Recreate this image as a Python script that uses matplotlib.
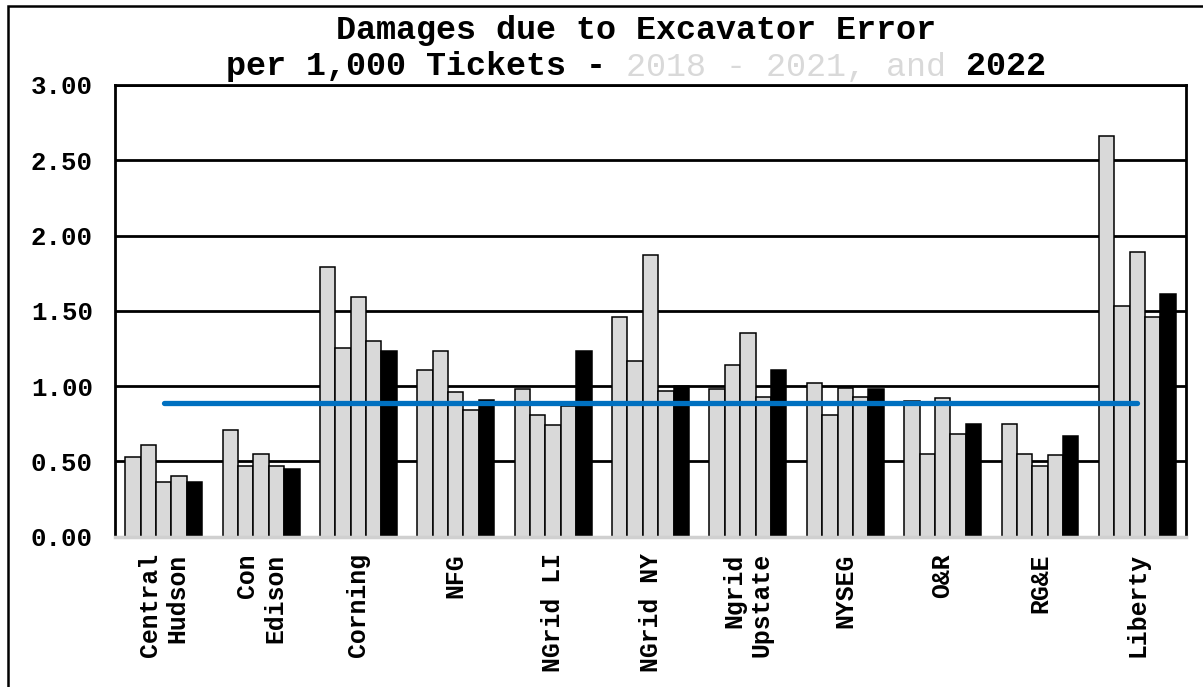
import matplotlib
matplotlib.use('Agg')
from matplotlib import pyplot as plt
from matplotlib.patches import Rectangle
from matplotlib.ticker import FormatStrFormatter
import numpy as np

companies = ['Central\nHudson', 'Con\nEdison', 'Corning', 'NFG', 'NGrid LI',
             'NGrid NY', 'Ngrid\nUpstate', 'NYSEG', 'O&R', 'RG&E', 'Liberty']
y2018 = [0.53, 0.71, 1.79, 1.11, 0.98, 1.46, 0.98, 1.02, 0.90, 0.75, 2.66]
y2019 = [0.61, 0.47, 1.25, 1.23, 0.81, 1.17, 1.14, 0.81, 0.55, 0.55, 1.53]
y2020 = [0.36, 0.55, 1.59, 0.96, 0.74, 1.87, 1.35, 0.99, 0.92, 0.47, 1.89]
y2021 = [0.40, 0.47, 1.30, 0.84, 0.87, 0.97, 0.93, 0.93, 0.68, 0.54, 1.46]
y2022 = [0.36, 0.45, 1.23, 0.91, 1.23, 1.00, 1.11, 0.98, 0.75, 0.67, 1.61]
avg_line = [0.89] * 11

series = [y2018, y2019, y2020, y2021, y2022]
colors = ['#d9d9d9', '#d9d9d9', '#d9d9d9', '#d9d9d9', 'black']

mono = 'Liberation Mono'
fig = plt.figure(figsize=(12.03, 6.87), dpi=100)
ax = fig.add_axes([0.0956, 0.2188, 0.8903, 0.6575])

x = np.arange(len(companies))
w = 0.158
for i, (vals, c) in enumerate(zip(series, colors)):
    ax.bar(x + (i - 2) * w, vals, width=w, color=c, edgecolor='black',
           linewidth=1.1, zorder=2)

# average line across all companies
ax.plot(x, avg_line, color='#0070c0', linewidth=3.8, solid_capstyle='round', zorder=3)

ax.set_xlim(-0.5, len(companies) - 0.5)
ax.set_ylim(0, 3.0)
ax.set_yticks(np.arange(0, 3.01, 0.5))
ax.yaxis.set_major_formatter(FormatStrFormatter('%.2f'))
ax.grid(axis='y', color='black', linewidth=2.0, zorder=0)
ax.set_axisbelow(True)

for s in ['left', 'top', 'right']:
    ax.spines[s].set_color('black')
    ax.spines[s].set_linewidth(2.0)
ax.spines['bottom'].set_color('#d0d0d0')
ax.spines['bottom'].set_linewidth(2.5)

ax.tick_params(axis='y', length=0, pad=16)
ax.tick_params(axis='x', length=0, pad=12)
for lab in ax.get_yticklabels():
    lab.set_fontfamily(mono)
    lab.set_fontweight('bold')
    lab.set_fontsize(18.5)

ax.set_xticks(x)
ax.set_xticklabels(companies, rotation=90, ha='center', va='top',
                   multialignment='right', fontfamily=mono,
                   fontweight='bold', fontsize=17.8)

# title, second line in two colours (monospace so the pieces line up)
tx = 636 / 1203
fig.text(tx, 1 - 30 / 687, 'Damages due to Excavator Error', ha='center', va='center',
         fontfamily=mono, fontweight='bold', fontsize=24)
line_a = 'per 1,000 Tickets -                  2022'
line_b = '                    2018 - 2021, and     '
fig.text(tx, 1 - 67 / 687, line_a, ha='center', va='center',
         fontfamily=mono, fontweight='bold', fontsize=24, color='black')
fig.text(tx, 1 - 67 / 687, line_b, ha='center', va='center',
         fontfamily=mono, fontsize=24, color='#d9d9d9')

# outer frame (cut off at right and bottom in the original)
fig.patches.append(Rectangle((8 / 1203, -0.2), 1.5, 1.2 - 6 / 687, transform=fig.transFigure,
                             fill=False, edgecolor='black', linewidth=1.8))

plt.savefig('out.png', dpi=100)
